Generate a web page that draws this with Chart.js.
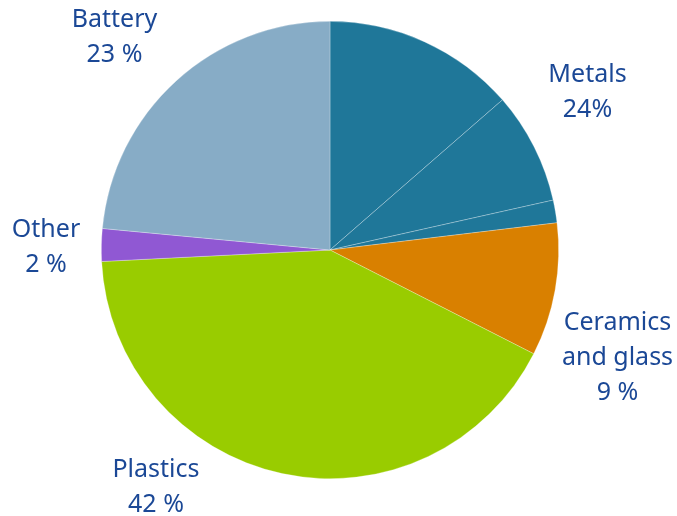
<!DOCTYPE html>
<html>
<head>
<meta charset="utf-8">
<script src="https://cdn.jsdelivr.net/npm/chart.js@4/dist/chart.umd.min.js"></script>
<style>
  html, body { margin: 0; padding: 0; background: #ffffff; }
  #wrap { width: 677px; height: 516px; position: relative; }
</style>
</head>
<body>
<div id="wrap"><canvas id="c" width="677" height="516"></canvas></div>
<script>
// Data (percent shares, clockwise from 12 o'clock)
const sliceCategories = ['Metals', 'Metals', 'Metals', 'Ceramics and glass', 'Plastics', 'Other', 'Battery'];
const sliceValues = [13.6, 7.9, 1.6, 9.4, 41.7, 2.3, 23.5];
const labelCategories = ['Metals', 'Ceramics and glass', 'Plastics', 'Other', 'Battery'];
const labelLines = [
  ['Metals', '24%'],
  ['Ceramics', 'and glass', '9 %'],
  ['Plastics', '42 %'],
  ['Other', '2 %'],
  ['Battery', '23 %']
];

// Styles
const sliceColors = ['#1f7799', '#1f7799', '#1f7799', '#d98000', '#99cc00', '#9058d3', '#87acc6'];
const labelOffsets = [ [257.5, -168], [287.5, 80], [-174, 227], [-284, -13], [-215.5, -223] ];
const textColor = '#1b4896';
const lineHeight = 35;

const labelPlugin = {
  id: 'sliceLabels',
  afterDraw(chart) {
    const arc = chart.getDatasetMeta(0).data[0];
    const cx = arc.x, cy = arc.y;
    const ctx = chart.ctx;
    ctx.save();
    ctx.fillStyle = textColor;
    ctx.font = '25px "Noto Sans", "Open Sans", sans-serif';
    ctx.textAlign = 'center';
    ctx.textBaseline = 'alphabetic';
    labelLines.forEach((lines, i) => {
      const [ox, oy] = labelOffsets[i];
      lines.forEach((t, j) => {
        ctx.fillText(t, cx + ox, cy + oy + j * lineHeight);
      });
    });
    ctx.restore();
  }
};

new Chart(document.getElementById('c'), {
  type: 'pie',
  data: {
    labels: sliceCategories,
    datasets: [{
      data: sliceValues,
      backgroundColor: sliceColors,
      borderColor: 'rgba(255,255,255,0.4)',
      borderWidth: 0.7
    }]
  },
  options: {
    responsive: false,
    animation: false,
    layout: { padding: { left: 101, right: 118, top: 21, bottom: 37 } },
    plugins: {
      legend: { display: false },
      tooltip: { enabled: false }
    }
  },
  plugins: [labelPlugin]
});
</script>
</body>
</html>
